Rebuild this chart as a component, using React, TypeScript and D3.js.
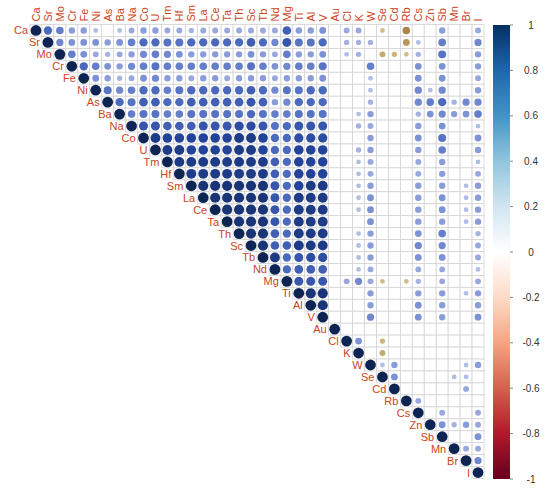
import React from "react";
import * as d3 from "d3";

const vars = ["Ca","Sr","Mo","Cr","Fe","Ni","As","Ba","Na","Co","U","Tm","Hf","Sm","La","Ce","Ta","Th","Sc","Tb","Nd","Mg","Ti","Al","V","Au","Cl","K","W","Se","Cd","Rb","Cs","Zn","Sb","Mn","Br","I"];

// upper triangle: row i holds correlations with columns i+1..37 (0 = blank)
const corrUpper: number[][] = [
  [.6,.5,.35,.35,.2,0,.2,.3,.35,.35,.3,.3,.25,.3,.3,.3,.3,.3,.3,.3,.65,.35,.35,.4,0,.3,.3,0,-.2,0,-.5,0,0,.35,0,0,.3],
  [.45,.4,.4,.4,.35,.4,.5,.6,.6,.55,.55,.6,.6,.6,.6,.6,.65,.6,.45,.7,.55,.55,.6,0,.25,.25,.25,0,0,-.4,.2,0,.5,0,0,.45],
  [.5,.4,.3,.25,.3,.35,.45,.5,.45,.4,.35,.35,.35,.35,.35,.4,.35,.3,.5,.35,.35,.4,0,.2,.25,0,-.3,-.25,-.2,.25,0,.55,0,0,.35],
  [.6,.5,.4,.35,.45,.5,.55,.5,.5,.5,.5,.5,.5,.5,.55,.5,.4,.45,.5,.5,.55,0,0,0,.5,0,0,0,.4,0,.4,0,0,.35],
  [.4,.35,.25,.3,.4,.45,.35,.35,.3,.35,.35,.3,.35,.35,.35,.3,.35,.35,.35,.4,0,0,0,.2,0,0,0,.4,0,.4,0,0,.3],
  [.55,.45,.5,.6,.6,.5,.55,.6,.6,.6,.6,.6,.65,.6,.45,.55,.55,.6,.6,0,0,0,.2,0,0,0,.45,.2,.45,0,0,.35],
  [.6,.55,.65,.65,.6,.6,.65,.65,.65,.65,.65,.7,.65,.35,.45,.6,.6,.6,0,0,0,.25,0,0,0,.45,.5,.6,.25,.45,.45],
  [.5,.55,.55,.5,.5,.55,.55,.55,.55,.55,.6,.55,.5,.5,.55,.55,.55,0,0,.2,.35,0,0,0,.25,.4,.45,.35,.4,.5],
  [.7,.7,.65,.65,.65,.7,.7,.7,.75,.75,.7,.55,.6,.7,.7,.7,0,0,.25,.3,0,0,0,.35,0,.4,0,0,.2],
  [.85,.8,.8,.8,.8,.8,.8,.85,.85,.8,.6,.6,.75,.75,.75,0,0,0,.35,0,0,0,.4,0,.55,0,0,.4],
  [.85,.85,.8,.8,.8,.8,.85,.85,.8,.6,.6,.8,.8,.8,0,0,.25,.35,0,0,0,.35,0,.5,0,0,.35],
  [.85,.85,.85,.85,.85,.85,.85,.85,.65,.6,.8,.8,.8,0,0,.2,.3,0,0,0,.3,0,.35,0,0,.2],
  [.85,.85,.85,.85,.85,.85,.85,.65,.6,.8,.8,.8,0,0,.2,.3,0,0,0,.3,0,.35,0,0,.3],
  [.9,.9,.9,.9,.9,.9,.7,.6,.8,.85,.85,0,0,.2,.35,0,0,0,.35,0,.35,0,.2,.35],
  [.9,.9,.9,.9,.9,.7,.6,.85,.85,.85,0,0,.2,.4,0,0,0,.35,0,.4,0,.2,.35],
  [.9,.9,.9,.9,.7,.6,.85,.85,.85,0,0,.2,.4,0,0,0,.35,0,.4,0,.2,.35],
  [.9,.9,.9,.7,.6,.85,.85,.85,0,0,0,.4,0,0,0,.35,0,.35,0,.2,.35],
  [.9,.9,.65,.6,.85,.85,.85,0,0,.2,.35,0,0,0,.4,0,.5,0,0,.25],
  [.9,.65,.65,.85,.85,.85,0,0,.2,.35,0,0,0,.45,0,.45,0,0,.3],
  [.85,.6,.7,.75,.75,0,0,.2,.35,0,0,0,.4,0,.4,0,0,.3],
  [.6,.65,.65,.65,0,0,.2,.3,0,0,0,.3,0,.3,0,0,.2],
  [.7,.7,.7,0,.3,.45,.3,-.2,0,-.2,.25,0,.3,0,0,.3],
  [.9,.9,0,0,0,.35,0,0,0,.35,0,.35,0,.2,.35],
  [.9,0,0,0,.35,0,0,0,.4,0,.35,0,0,.35],
  [0,0,0,.45,0,0,0,.4,0,.35,0,0,.4],
  [0,0,0,0,0,0,0,0,0,0,0,0],
  [.4,0,-.25,0,0,0,0,0,0,0,0],
  [0,-.3,0,0,0,0,0,0,0,0],
  [.2,.35,0,0,0,0,0,.2,.35],
  [.4,0,0,0,0,.2,.2,0],
  [0,0,0,0,0,.3,0],
  [.3,0,0,0,0,0],
  [0,.3,0,0,.3],
  [.4,.25,.35,.3],
  [0,0,.4],
  [.3,.3],
  [.45],
];

const legendTicks = [1, 0.8, 0.6, 0.4, 0.2, 0, -0.2, -0.4, -0.6, -0.8, -1];
const palette = ["#67001F","#B2182B","#D6604D","#F4A582","#FDDBC7","#FFFFFF","#D1E5F0","#92C5DE","#4393C3","#2166AC","#053061"];

export default function App() {
  const W = 550, H = 491;
  const n = vars.length;
  const gx0 = 30, gy0 = 24.5, gx1 = 484, gy1 = 478.5;
  const x = d3.scaleBand<number>().domain(d3.range(n)).range([gx0, gx1]);
  const y = d3.scaleBand<number>().domain(d3.range(n)).range([gy0, gy1]);
  const cs = x.bandwidth();

  const palScale = d3.scaleLinear<string>().domain(d3.range(11).map(i => -1 + i * 0.2)).range(palette);
  const dotScale = d3.scaleLinear<string>()
    .domain([-1, -0.5, -0.2, 0, 0.2, 0.4, 0.6, 0.8, 1])
    .range(["#67001F", "#ab8448", "#d2bd84", "#ffffff", "#b2bde6", "#7d92d4", "#4b69bd", "#23439a", "#0e2453"]);

  const cells: { i: number; j: number; v: number }[] = [];
  for (let i = 0; i < n; i++) {
    cells.push({ i, j: i, v: 1 });
    corrUpper[i]?.forEach((v, k) => cells.push({ i, j: i + 1 + k, v }));
  }

  const legY = d3.scaleLinear().domain([1, -1]).range([25, 479]);
  const legStops = d3.range(0, 1.0001, 0.05);

  return (
    <svg width={W} height={H} style={{ position: "absolute", left: 0, top: 0, background: "#fff" }} fontFamily="Liberation Sans, Arial, sans-serif">
      <defs>
        <linearGradient id="leg" x1="0" y1="0" x2="0" y2="1">
          {legStops.map((t, k) => (
            <stop key={k} offset={t} stopColor={palScale(1 - 2 * t)} />
          ))}
        </linearGradient>
      </defs>
      <rect width={W} height={H} fill="#fff" />
      {cells.map(c => (
        <rect key={`g${c.i}-${c.j}`} x={x(c.j)} y={y(c.i)} width={cs} height={cs} fill="#fff" stroke="#d4d4d4" strokeWidth={0.8} />
      ))}
      {cells.filter(c => c.v !== 0).map(c => (
        <circle key={`c${c.i}-${c.j}`} cx={(x(c.j) as number) + cs / 2} cy={(y(c.i) as number) + cs / 2}
          r={0.45 * Math.sqrt(Math.abs(c.v)) * cs} fill={dotScale(c.v)} />
      ))}
      {vars.map((v, i) => (
        <text key={`r${v}`} x={(x(i) as number) - 2} y={(y(i) as number) + cs / 2 + 4} textAnchor="end" fontSize={11} fill="#cc4422">{v}</text>
      ))}
      {vars.map((v, i) => (
        <text key={`c${v}`} transform={`translate(${(x(i) as number) + cs / 2 + 4},${gy0 - 3}) rotate(-90)`} textAnchor="start" fontSize={11} fill="#cc4422">{v}</text>
      ))}
      <rect x={493} y={25} width={17} height={454} fill="url(#leg)" />
      {legendTicks.map(t => (
        <g key={`t${t}`}>
          <line x1={510} x2={513} y1={legY(t)} y2={legY(t)} stroke="#666" strokeWidth={0.8} />
          <text x={531} y={legY(t) + 3.5} textAnchor="middle" fontSize={10} fill="#333">{t}</text>
        </g>
      ))}
    </svg>
  );
}
